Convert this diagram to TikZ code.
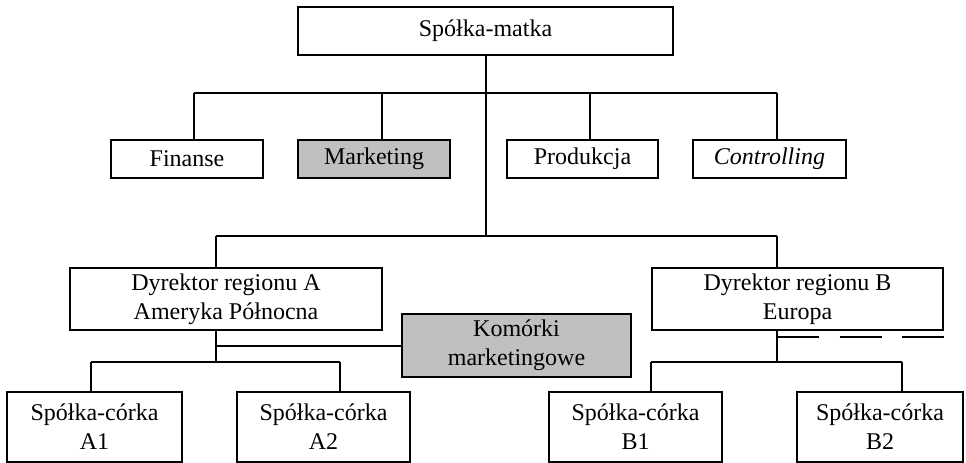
\documentclass[tikz,border=0pt]{standalone}
\usepackage{fontspec}
\setmainfont{Liberation Serif}
\begin{document}
\begin{tikzpicture}[x=0.75pt,y=-0.75pt,
  box/.style={draw=black, line width=1.3pt, fill=white, inner sep=0pt, outer sep=0pt,
    align=center, font=\fontsize{18}{21.75}\selectfont},
  graybox/.style={box, fill=boxgray},
  conn/.style={draw=black, line width=1.3pt}]
\definecolor{boxgray}{HTML}{C0C0C0}
\useasboundingbox (0,0) rectangle (966,463);

% nodes
\node[box, minimum width=281.25pt, minimum height=36pt] (matka) at (485.5,31) {Spółka-matka};
\node[box, minimum width=114pt, minimum height=28.5pt] (fin) at (187,159) {Finanse};
\node[graybox, minimum width=114pt, minimum height=28.5pt] (mark) at (374,159) {Marketing};
\node[box, minimum width=113.25pt, minimum height=28.5pt] (prod) at (582.5,159) {Produkcja};
\node[box, minimum width=114.75pt, minimum height=28.5pt] (ctrl) at (769.5,159) {\itshape Controlling};
\node[box, minimum width=234pt, minimum height=46.5pt] (dirA) at (226,299) {Dyrektor regionu A\\Ameryka Północna};
\node[box, minimum width=218.25pt, minimum height=46.5pt] (dirB) at (797.5,299) {Dyrektor regionu B\\Europa};
\node[graybox, minimum width=171.75pt, minimum height=47.25pt] (kom) at (516.5,345.5) {Komórki\\marketingowe};
\node[box, minimum width=131.25pt, minimum height=52.5pt] (a1) at (94.5,427) {Spółka-córka\\A1};
\node[box, minimum width=129.75pt, minimum height=52.5pt] (a2) at (323.5,427) {Spółka-córka\\A2};
\node[box, minimum width=129.75pt, minimum height=52.5pt] (b1) at (635.5,427) {Spółka-córka\\B1};
\node[box, minimum width=124.5pt, minimum height=52.5pt] (b2) at (880,427) {Spółka-córka\\B2};

% junction coordinates
\coordinate (tm) at (486,236);
\coordinate (cf) at (194,93);
\coordinate (cm) at (382,93);
\coordinate (cp) at (590,93);
\coordinate (cc) at (777,93);
\coordinate (da) at (216,236);
\coordinate (db) at (777,236);
\coordinate (ka) at (216,346);
\coordinate (ha) at (216,362);
\coordinate (ca1) at (91,362);
\coordinate (ca2) at (340,362);
\coordinate (hb) at (777,362);
\coordinate (cb1) at (651,362);
\coordinate (cb2) at (902,362);
\coordinate (ds) at (777,337);
\coordinate (de) at (944,337);

% connectors
\draw[conn] (matka.south -| tm) -- (tm);
\draw[conn] (cf) -- (cc);
\draw[conn] (cf) -- (cf |- fin.north);
\draw[conn] (cm) -- (cm |- mark.north);
\draw[conn] (cp) -- (cp |- prod.north);
\draw[conn] (cc) -- (cc |- ctrl.north);
\draw[conn] (da) -- (db);
\draw[conn] (da) -- (da |- dirA.north);
\draw[conn] (db) -- (db |- dirB.north);
\draw[conn] (da |- dirA.south) -- (ha);
\draw[conn] (ka) -- (kom.west |- ka);
\draw[conn] (ca1) -- (ca2);
\draw[conn] (ca1) -- (ca1 |- a1.north);
\draw[conn] (ca2) -- (ca2 |- a2.north);
\draw[conn] (db |- dirB.south) -- (hb);
\draw[conn] (cb1) -- (cb2);
\draw[conn] (cb1) -- (cb1 |- b1.north);
\draw[conn] (cb2) -- (cb2 |- b2.north);
\draw[conn, dash pattern=on 31.5pt off 15.4pt] (ds) -- (de);
\end{tikzpicture}
\end{document}
